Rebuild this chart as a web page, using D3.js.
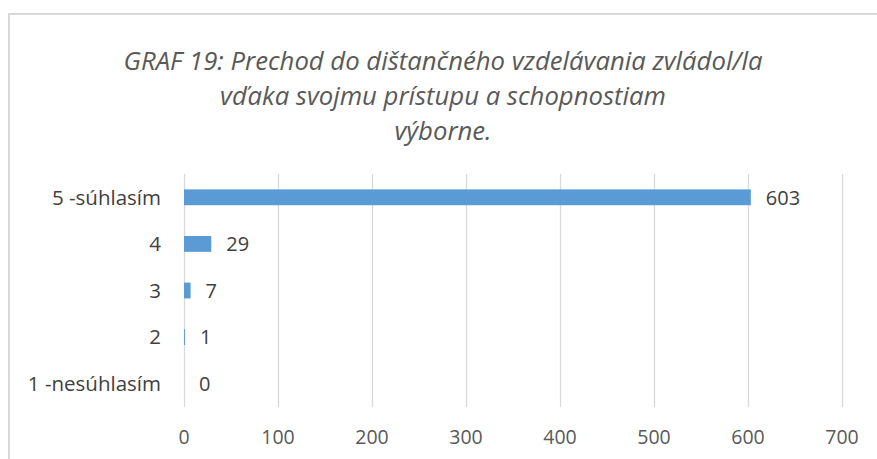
<!DOCTYPE html>
<html>
<head>
  <meta charset=utf-8>
  <title>GRAF 19</title>
  <script src="https://d3js.org/d3.v7.min.js"></script>
  <style>
    body { margin: 0; background: #fff; }
    text { font-family: 'Open Sans', sans-serif; }
  </style>
</head>
<body>
  <div id='chart'></div>
<script>

// data
var categories = ['5 -súhlasím', '4', '3', '2', '1 -nesúhlasím'];
var values = [603, 29, 7, 1, 0];
var xTicks = [0, 100, 200, 300, 400, 500, 600, 700];
var titleLines = [
  'GRAF 19: Prechod do dištančného vzdelávania zvládol/la',
  'vďaka svojmu prístupu a schopnostiam',
  'výborne.'
];

var width = 877, height = 459;

var svg = d3.select('#chart').append('svg')
  .attr('width', width)
  .attr('height', height);

// chart frame
svg.append('rect')
  .attr('x', 9).attr('y', 14)
  .attr('width', 1000).attr('height', 1000)
  .attr('fill', '#fff')
  .attr('stroke', '#d9d9d9')
  .attr('stroke-width', 2);

// title
svg.append('g').selectAll('text')
  .data(titleLines)
  .enter().append('text')
    .attr('x', 443)
    .attr('y', function (d, i) { return 70 + i * 35; })
    .attr('text-anchor', 'middle')
    .attr('font-family', 'Lato, sans-serif')
    .attr('font-size', 25.7)
    .attr('font-style', 'italic')
    .attr('fill', '#595959')
    .text(function (d) { return d; });

var x = d3.scaleLinear()
  .domain([0, 700])
  .range([184, 842]);

var y = d3.scaleBand()
  .domain(categories)
  .range([174, 407])
  .paddingInner(0.66)
  .paddingOuter(0.33);

// gridlines
svg.append('g').selectAll('line')
  .data(xTicks)
  .enter().append('line')
    .attr('x1', function (d) { return Math.round(x(d)) + 0.5; })
    .attr('x2', function (d) { return Math.round(x(d)) + 0.5; })
    .attr('y1', 174)
    .attr('y2', 407)
    .attr('stroke', '#d9d9d9')
    .attr('stroke-width', 1.3);

// x tick labels
svg.append('g').selectAll('text')
  .data(xTicks)
  .enter().append('text')
    .attr('x', function (d) { return x(d); })
    .attr('y', 444)
    .attr('text-anchor', 'middle')
    .attr('font-size', 19.5)
    .attr('fill', '#595959')
    .text(function (d) { return d; });

// category labels
svg.append('g').selectAll('text')
  .data(categories)
  .enter().append('text')
    .attr('x', 161)
    .attr('y', function (d) { return y(d) + y.bandwidth() / 2; })
    .attr('dy', '0.36em')
    .attr('text-anchor', 'end')
    .attr('font-size', 20.5)
    .attr('fill', '#404040')
    .text(function (d) { return d; });

// bars
svg.append('g').selectAll('rect')
  .data(values)
  .enter().append('rect')
    .attr('x', x(0))
    .attr('y', function (d, i) { return y(categories[i]); })
    .attr('width', function (d) { return x(d) - x(0); })
    .attr('height', y.bandwidth())
    .attr('fill', '#5b9bd5');

// value labels
svg.append('g').selectAll('text')
  .data(values)
  .enter().append('text')
    .attr('x', function (d) { return x(d) + 15; })
    .attr('y', function (d, i) { return y(categories[i]) + y.bandwidth() / 2; })
    .attr('dy', '0.36em')
    .attr('font-size', 20)
    .attr('fill', '#404040')
    .text(function (d) { return d; });

</script>
</body>
</html>
